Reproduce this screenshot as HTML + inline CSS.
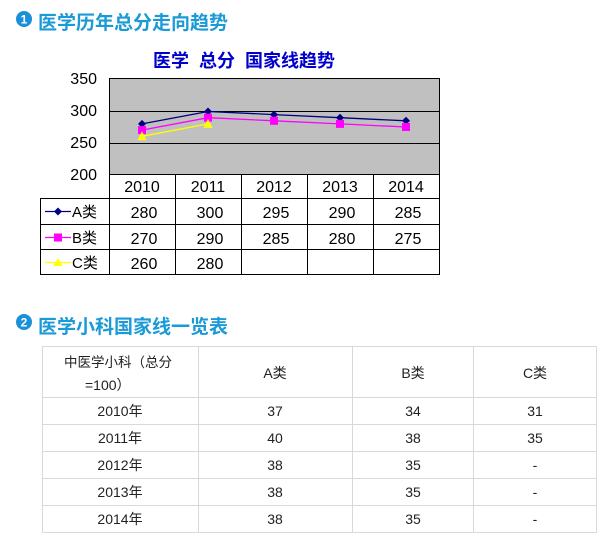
<!DOCTYPE html>
<html><head><meta charset="utf-8"><style>
body{margin:0;background:#fff;}
svg{display:block;font-family:"Liberation Sans","Noto Sans CJK SC",sans-serif;}
</style></head><body>
<svg width="601" height="546" viewBox="0 0 601 546">
<circle cx="24" cy="19" r="8" fill="#1a90d8"/>
<text x="24" y="23.5" font-size="12" font-weight="bold" fill="#fff" text-anchor="middle">1</text>
<text x="38" y="29" font-size="19" font-weight="bold" fill="#1a9ad6">医学历年总分走向趋势</text>
<text x="244" y="67" font-size="18" font-weight="bold" fill="#0000cc" text-anchor="middle" xml:space="preserve">医学  总分  国家线趋势</text>
<rect x="109.5" y="78.5" width="330" height="96" fill="#c0c0c0" stroke="#000" stroke-width="1"/>
<line x1="109" y1="111.5" x2="440" y2="111.5" stroke="#000"/>
<line x1="109" y1="143.5" x2="440" y2="143.5" stroke="#000"/>
<g font-size="16" fill="#000" text-anchor="end">
<text x="97" y="84">350</text><text x="97" y="116">300</text><text x="97" y="148">250</text><text x="97" y="180">200</text>
</g>
<polyline points="142,123.9 208,111.5 274,114.6 340,117.7 406,120.8" fill="none" stroke="#000080" stroke-width="1.3"/>
<polyline points="142,130.1 208,117.7 274,120.8 340,123.9 406,127" fill="none" stroke="#ff00ff" stroke-width="1.3"/>
<polyline points="142,136.3 208,123.9" fill="none" stroke="#ffff00" stroke-width="1.3"/>
<g fill="#000080">
<path d="M142,119.9l4,4l-4,4l-4-4z"/><path d="M208,107.5l4,4l-4,4l-4-4z"/><path d="M274,110.6l4,4l-4,4l-4-4z"/><path d="M340,113.7l4,4l-4,4l-4-4z"/><path d="M406,116.8l4,4l-4,4l-4-4z"/>
</g>
<g fill="#ff00ff">
<rect x="138" y="126.1" width="8" height="8"/><rect x="204" y="113.7" width="8" height="8"/><rect x="270" y="116.8" width="8" height="8"/><rect x="336" y="119.9" width="8" height="8"/><rect x="402" y="123" width="8" height="8"/>
</g>
<g fill="#ffff00">
<path d="M142,131.3l4.5,9h-9z"/><path d="M208,118.9l4.5,9h-9z"/>
</g>
<g stroke="#000" stroke-width="1" fill="none">
<rect x="40.5" y="198.5" width="399" height="76"/>
<line x1="109.5" y1="174" x2="109.5" y2="275"/>
<line x1="175.5" y1="174" x2="175.5" y2="275"/>
<line x1="241.5" y1="174" x2="241.5" y2="275"/>
<line x1="307.5" y1="174" x2="307.5" y2="275"/>
<line x1="373.5" y1="174" x2="373.5" y2="275"/>
<line x1="439.5" y1="174" x2="439.5" y2="275"/>
<line x1="40" y1="224.5" x2="440" y2="224.5"/>
<line x1="40" y1="249.5" x2="440" y2="249.5"/>
</g>
<g font-size="16" fill="#000" text-anchor="middle">
<text x="142" y="192">2010</text><text x="208" y="192">2011</text><text x="274" y="192">2012</text><text x="340" y="192">2013</text><text x="406" y="192">2014</text>
<text x="144" y="218">280</text><text x="210" y="218">300</text><text x="276" y="218">295</text><text x="342" y="218">290</text><text x="408" y="218">285</text>
<text x="144" y="244">270</text><text x="210" y="244">290</text><text x="276" y="244">285</text><text x="342" y="244">280</text><text x="408" y="244">275</text>
<text x="144" y="269">260</text><text x="210" y="269">280</text>
</g>
<g font-size="15" fill="#000">
<line x1="45" y1="211.5" x2="71" y2="211.5" stroke="#000080" stroke-width="1.3"/><path d="M58,207.5l4,4l-4,4l-4-4z" fill="#000080"/>
<text x="72" y="217">A类</text>
<line x1="45" y1="237.5" x2="71" y2="237.5" stroke="#ff00ff" stroke-width="1.3"/><rect x="54" y="233.5" width="8" height="8" fill="#ff00ff"/>
<text x="72" y="243">B类</text>
<line x1="45" y1="262.5" x2="71" y2="262.5" stroke="#ffff00" stroke-width="1.3"/><path d="M58,258l4.5,8h-9z" fill="#ffff00"/>
<text x="72" y="268">C类</text>
</g>
<circle cx="24" cy="322" r="8" fill="#1a90d8"/>
<text x="24" y="326.5" font-size="12" font-weight="bold" fill="#fff" text-anchor="middle">2</text>
<text x="38" y="333" font-size="19" font-weight="bold" fill="#1a9ad6">医学小科国家线一览表</text>
<g stroke="#d9d9d9" stroke-width="1" fill="none">
<rect x="42.5" y="346.5" width="554" height="186"/>
<line x1="198.5" y1="346" x2="198.5" y2="532"/>
<line x1="352.5" y1="346" x2="352.5" y2="532"/>
<line x1="473.5" y1="346" x2="473.5" y2="532"/>
<line x1="42" y1="397.5" x2="597" y2="397.5"/>
<line x1="42" y1="424.5" x2="597" y2="424.5"/>
<line x1="42" y1="451.5" x2="597" y2="451.5"/>
<line x1="42" y1="478.5" x2="597" y2="478.5"/>
<line x1="42" y1="505.5" x2="597" y2="505.5"/>
</g>
<g font-size="14" fill="#222" text-anchor="middle">
<text x="118" y="367" font-size="13.5">中医学小科（总分</text>
<text x="85" y="390" text-anchor="start">=100）</text>
<text x="275" y="378">A类</text><text x="413" y="378">B类</text><text x="535" y="378">C类</text>
<text x="120" y="416">2010年</text><text x="275" y="416">37</text><text x="413" y="416">34</text><text x="535" y="416">31</text>
<text x="120" y="443">2011年</text><text x="275" y="443">40</text><text x="413" y="443">38</text><text x="535" y="443">35</text>
<text x="120" y="470">2012年</text><text x="275" y="470">38</text><text x="413" y="470">35</text><text x="535" y="470">-</text>
<text x="120" y="497">2013年</text><text x="275" y="497">38</text><text x="413" y="497">35</text><text x="535" y="497">-</text>
<text x="120" y="524">2014年</text><text x="275" y="524">38</text><text x="413" y="524">35</text><text x="535" y="524">-</text>
</g>
</svg>
</body></html>
